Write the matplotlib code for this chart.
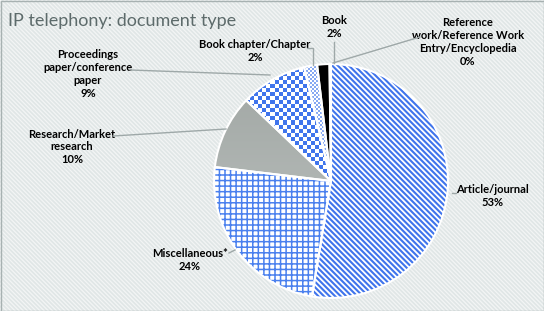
import matplotlib
matplotlib.use('Agg')
import matplotlib.pyplot as plt
import numpy as np
from matplotlib.patches import Rectangle
from matplotlib.colors import ListedColormap, LinearSegmentedColormap

# ---- data ----
categories = ['Article/journal', 'Miscellaneous*', 'Research/Market\nresearch',
              'Proceedings\npaper/conference\npaper', 'Book chapter/Chapter', 'Book',
              'Reference\nwork/Reference Work\nEntry/Encyclopedia']
values = [52.6, 24.3, 10.2, 9.2, 1.8, 1.7, 0.2]
pct_labels = ['53%', '24%', '10%', '9%', '2%', '2%', '0%']

W, H = 544, 311
fig = plt.figure(figsize=(W / 100, H / 100), dpi=100)
fig.patch.set_facecolor('#e0e6e6')
ax = fig.add_axes([0, 0, 1, 1])
ax.set_facecolor('none')

def Y(py):
    return H - py

# background stripes
bg = Rectangle((0, 0), W, H, facecolor='none', edgecolor='#f3f5f5', hatch='\\' * 8,
               linewidth=0, zorder=-5)
ax.add_patch(bg)
try:
    bg.set_hatch_linewidth(0.9)
except Exception:
    pass
ax.add_patch(Rectangle((0.5, 0.5), W - 1, H - 1, facecolor='none', edgecolor='#a7b1b1',
                       linewidth=1, zorder=10))

blue = '#3f74ec'
cx, cy, R = 331, Y(181), 117

wedges, _ = ax.pie(values, startangle=90, counterclock=False, center=(cx, cy), radius=R,
                   wedgeprops=dict(linewidth=0))

# Article: diagonal stripes
w = wedges[0]
w.set_facecolor('white'); w.set_edgecolor(blue); w.set_hatch('\\' * 6)
# Miscellaneous: grid
w = wedges[1]
w.set_facecolor('white'); w.set_edgecolor('#4a80ee'); w.set_hatch('+++')
for wi, lw in [(wedges[0], 1.5), (wedges[1], 1.1)]:
    try:
        wi.set_hatch_linewidth(lw)
    except Exception:
        pass
# Research: gray gradient
wedges[2].set_facecolor('none')
grad = np.linspace(0, 1, 100).reshape(-1, 1)
gcm = LinearSegmentedColormap.from_list('g', ['#bfc4c2', '#a0a6a3'])
im = ax.imshow(grad, cmap=gcm, extent=(cx - R, cx + R, cy - R, cy + R), origin='lower',
               aspect='auto', zorder=1)
im.set_clip_path(wedges[2])
# Proceedings: checkerboard
wedges[3].set_facecolor('none')
n = int(2 * R / 4)
ii, jj = np.meshgrid(np.arange(n), np.arange(n))
chk = (ii + jj) % 2
im2 = ax.imshow(chk, cmap=ListedColormap(['white', blue]), extent=(cx - R, cx + R, cy - R, cy + R),
                interpolation='nearest', aspect='auto', zorder=1)
im2.set_clip_path(wedges[3])
# Book chapter: fine dots
wedges[4].set_facecolor('none')
n2 = int(2 * R / 2)
ii, jj = np.meshgrid(np.arange(n2), np.arange(n2))
chk2 = (ii + jj) % 2
im3 = ax.imshow(chk2, cmap=ListedColormap(['white', '#86a8f2']), extent=(cx - R, cx + R, cy - R, cy + R),
                interpolation='nearest', aspect='auto', zorder=1)
im3.set_clip_path(wedges[4])
# Book: black
wedges[5].set_facecolor('black')
wedges[6].set_facecolor('#a5a5a5')

# white separators
ax.pie(values, startangle=90, counterclock=False, center=(cx, cy), radius=R,
       wedgeprops=dict(facecolor='none', edgecolor='white', linewidth=1.5))

ax.set_xlim(0, W)
ax.set_ylim(0, H)
ax.set_aspect('auto')
ax.axis('off')

# title
ax.text(8, Y(21), 'IP telephony: document type', fontsize=13, family='Lato', color='#5d6b6b',
        ha='left', va='center')

# labels
label_pos = [(492, 196), (190, 260), (72, 147), (88, 74), (255, 51), (334, 27), (468, 42)]
for cat, pct, (px, py) in zip(categories, pct_labels, label_pos):
    ax.text(px, Y(py), cat + '\n' + pct, ha='center', va='center', fontsize=8,
            family='Lato', fontweight='bold', color='black', linespacing=1.2)

lc = '#9ea8a8'
leaders = [
    ([452, 456], [193, 193]),
    ([229, 235], [253, 250]),
    ([113, 226], [136, 129]),
    ([130, 270], [70, 75]),
    ([307, 313, 313], [48, 48, 65]),
    ([334, 334], [42, 63]),
    ([420, 333], [37, 63]),
]
for xs, ys in leaders:
    ax.plot(xs, [Y(v) for v in ys], color=lc, lw=1, zorder=3)

fig.savefig('out.png', dpi=100, facecolor=fig.get_facecolor())
